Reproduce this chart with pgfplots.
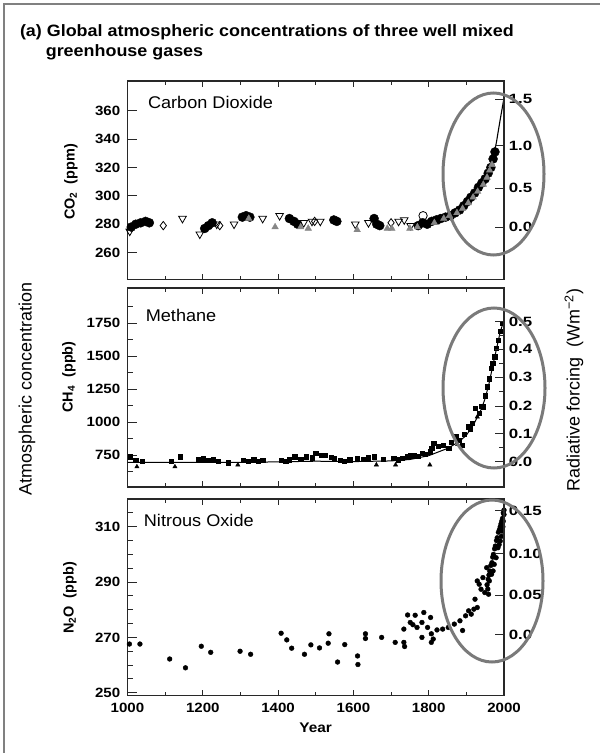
\documentclass[border=0pt]{standalone}
\usepackage{pgfplots}
\pgfplotsset{compat=1.18}
\usepackage{fontspec}
\setmainfont{Liberation Sans}

\definecolor{framegray}{RGB}{128,128,128}
\definecolor{ringgray}{RGB}{122,122,122}
\definecolor{markgray}{RGB}{135,135,135}
\definecolor{axisdark}{RGB}{40,40,40}

\newcommand{\tickfont}{\bfseries\fontsize{13.5}{15}\selectfont}
\newcommand{\panelfont}{\fontsize{17}{19}\selectfont}

\pgfplotsset{
  panel/.style={
    width=376.5bp, scale only axis,
    anchor=south west,
    xmin=1000, xmax=2000,
    xtick={1000,1200,...,2000},
    minor xtick={1100,1300,...,1900},
    tick align=inside,
    xtick style={/pgfplots/major tick length=6bp, /pgfplots/minor tick length=4bp},
    ytick style={/pgfplots/major tick length=9bp, /pgfplots/minor tick length=5bp},
    axis line style={line width=1.3bp, axisdark},
    every tick/.style={line width=1bp, axisdark},
    /pgf/number format/assume math mode=true,
    /pgf/number format/1000 sep={},
    yticklabel style={font=\tickfont, xscale=1.12, xshift=-3bp},
    xticklabel style={font=\tickfont, xscale=1.12, yshift=-4bp},
    clip=false,
  },
  rightpanel/.style={
    panel,
    axis y line*=right,
    axis x line=none,
    yticklabel style={font=\tickfont, xscale=1.12, xshift=3bp},
  },
}

\begin{document}
\begin{tikzpicture}[x=1bp,y=1bp]
\useasboundingbox (0,0) rectangle (600,-753);
\draw[framegray, line width=2bp] (4,-753) -- (4,-4) -- (600,-4);

% title
\node[anchor=base west, inner sep=0, xscale=1.09, font=\bfseries\fontsize{16.5}{19}\selectfont]
  at (19.8,-37) {(a) Global atmospheric concentrations of three well mixed};
\node[anchor=base west, inner sep=0, xscale=1.09, font=\bfseries\fontsize{16.5}{19}\selectfont]
  at (45.6,-57) {greenhouse gases};

% ---- CO2 ----
\begin{axis}[panel, height=198.5bp, at={(127.5bp,-279.5bp)},
    ymin=241, ymax=381, ytick={260,280,...,360}, ytick pos=left,
    xticklabels={}]
% Mauna Loa / smoothed record
\addplot[black, line width=1.1bp] coordinates {
 (1800,282) (1820,283) (1840,284) (1860,286) (1880,290) (1900,295)
 (1920,302) (1940,309) (1950,312) (1960,317) (1970,325) (1980,338)
 (1990,354) (2000,369)};
% filled circles
\addplot[only marks, mark=*, mark size=4.5bp, black] coordinates {
 (1010,278) (1022,280) (1035,281) (1048,282) (1058,281)
 (1205,277) (1215,279) (1225,281) (1305,285) (1315,286) (1325,285)
 (1430,284) (1442,282) (1452,280) (1548,283) (1556,282)
 (1655,284) (1662,280) (1670,279) (1772,279) (1784,281) (1796,280)
 (1808,282) (1820,283) (1832,284) (1845,285) (1858,286) (1870,288)
 (1882,290) (1893,293) (1903,296) (1912,299) (1922,302) (1932,306)
 (1941,309) (1950,312) (1958,316) (1965,320) (1971,326) (1976,331)};
% open triangles down
\addplot[only marks, mark=triangle, mark size=4.4bp, black, line width=0.8bp,
    mark options={rotate=180, fill=white}] coordinates {
 (1006,275) (1146,284) (1192,273) (1237,280) (1283,280) (1359,284)
 (1404,286) (1468,281) (1490,282) (1512,282) (1605,280) (1640,281)
 (1720,282) (1735,283) (1752,279)};
% open diamonds
\addplot[only marks, mark=diamond, mark size=4.2bp, black, line width=0.8bp,
    mark options={fill=white}] coordinates {
 (1095,279) (1245,279) (1497,282) (1700,281) (1827,283)};
% open circle
\addplot[only marks, mark=o, mark size=4.2bp, black, line width=0.8bp] coordinates {
 (1785,286)};
% grey triangles up
\addplot[only marks, mark=triangle*, mark size=3.8bp, markgray] coordinates {
 (1322,284) (1392,278) (1460,278) (1480,277) (1610,276) (1690,277)
 (1702,277) (1750,277) (1770,278) (1815,281) (1840,284) (1855,286)
 (1875,288) (1890,291) (1905,295) (1918,299) (1930,303) (1945,308)
 (1955,313) (1962,318) (1968,322)};
\node[anchor=base west, inner sep=0, xscale=1.07, font=\panelfont] at (rel axis cs:0.054,0.859) {Carbon Dioxide};
\end{axis}
\begin{axis}[rightpanel, height=198.5bp, at={(127.5bp,-279.5bp)},
    ymin=241, ymax=381,
    ytick={278,305.3,335.3,368.3}, yticklabels={0.0,0.5,1.0,1.5}]
\end{axis}

% ---- Methane ----
\begin{axis}[panel, height=199bp, at={(127.5bp,-487bp)},
    ymin=507, ymax=2018, ytick={750,1000,...,1750}, ytick pos=left,
    minor ytick={625,875,1125,1375,1625,1875},
    xticklabels={}]
\addplot[black, line width=1bp] coordinates {
 (1000,694) (1100,694) (1200,694) (1300,694) (1400,698) (1500,703)
 (1600,700) (1700,705) (1750,716) (1800,745) (1850,800) (1880,850)
 (1900,900) (1920,985) (1940,1100) (1950,1180) (1960,1290) (1970,1425)
 (1980,1555) (1990,1685) (2000,1775)};
\addplot[only marks, mark=square*, mark size=2.1bp, black] coordinates {
 (1008,737) (1022,712) (1040,700) (1116,700) (1141,737) (1187,715)
 (1200,722) (1215,712) (1227,718) (1240,705) (1268,692) (1308,712)
 (1320,705) (1335,715) (1348,700) (1359,712) (1409,712) (1420,705)
 (1429,715) (1444,737) (1460,720) (1475,737) (1490,730) (1500,762)
 (1515,748) (1525,750) (1540,735) (1550,725) (1565,710) (1576,700)
 (1590,715) (1611,725) (1625,718) (1640,730) (1656,737) (1680,720)
 (1707,725) (1720,715) (1730,728) (1742,737) (1752,745) (1762,750)
 (1772,740) (1783,762) (1790,755) (1803,775) (1808,800) (1813,839)
 (1825,815) (1838,826) (1853,800) (1860,850) (1874,889) (1880,860)
 (1889,826) (1895,905) (1904,965) (1910,950) (1915,990) (1924,1104)
 (1934,1066) (1940,1120) (1945,1117) (1950,1200) (1955,1269) (1960,1330)
 (1965,1408) (1970,1450) (1975,1497) (1980,1560) (1985,1624) (1990,1690)
 (1995,1750)};
\addplot[only marks, mark=triangle*, mark size=2.5bp, black] coordinates {
 (1025,661) (1126,661) (1293,675) (1661,675) (1712,675) (1803,675)
 (1877,830) (1929,1040)};
\node[anchor=base west, inner sep=0, xscale=1.07, font=\panelfont] at (rel axis cs:0.048,0.831) {Methane};
\end{axis}
\begin{axis}[rightpanel, height=199bp, at={(127.5bp,-487bp)},
    ymin=507, ymax=2018,
    ytick={699,910,1122,1340,1553,1762}, yticklabels={0.0,0.1,0.2,0.3,0.4,0.5},
    minor ytick={805,1016,1231,1446,1657}]
\end{axis}

% ---- Nitrous oxide ----
\begin{axis}[panel, height=196.5bp, at={(127.5bp,-695.5bp)},
    ymin=249, ymax=320, ytick={250,270,290,310}, ytick pos=left,
    minor ytick={255,260,265,275,280,285,295,300,305,315}]
\addplot[only marks, mark=*, mark size=2.4bp, black] coordinates {
 (1005,267.6) (1033,267.6) (1112,262.2) (1154,259.0) (1196,266.8)
 (1221,264.6) (1299,265.0) (1327,263.9) (1408,271.5) (1423,269.1)
 (1436,266.1) (1470,263.9) (1487,267.3) (1510,266.2) (1533,267.9)
 (1535,271.3) (1558,261.1) (1577,267.4) (1611,263.3) (1612,260.2)
 (1632,271.3) (1632,269.6) (1675,270.0) (1711,268.2) (1734,273.0)
 (1734,268.2) (1736,266.7) (1744,278.1) (1751,275.4) (1758,274.6)
 (1764,278.0) (1769,273.6) (1782,275.4) (1787,279.0) (1782,270.0)
 (1797,273.6) (1805,277.2) (1807,271.3) (1807,268.2) (1812,269.4)
 (1822,272.7) (1837,273.0) (1852,273.6) (1868,274.8) (1883,276.0)
 (1890,272.5) (1898,277.8) (1906,279.6) (1913,278.4) (1920,280.2)
 (1923,283.8) (1929,280.8) (1929,290.4) (1934,289.2) (1939,287.4)
 (1944,291.6) (1949,286.2) (1954,295.2) (1959,285.6) (1961,290.4)
 (1955,289.0) (1957,287.5) (1958,291.0) (1960,292.5) (1962,294.0)
 (1963,293.0) (1965,296.0) (1967,292.8) (1968,297.0) (1970,299.0)
 (1971,294.0) (1972,300.0) (1974,296.4) (1975,302.0) (1977,303.0)
 (1979,298.8) (1980,305.0) (1982,306.0) (1984,302.4) (1985,308.0)
 (1987,303.5) (1988,309.0) (1990,304.8) (1990,310.0) (1992,311.0)
 (1993,306.5) (1994,312.0) (1995,308.4) (1996,313.0) (1997,310.0)
 (1998,312.0) (1998,315.0) (2000,314.4) (2000,316.0)};
\node[anchor=base west, inner sep=0, xscale=1.07, font=\panelfont] at (rel axis cs:0.043,0.859) {Nitrous Oxide};
\end{axis}
\begin{axis}[rightpanel, height=196.5bp, at={(127.5bp,-695.5bp)},
    ymin=249, ymax=320,
    ytick={270.9,285.3,300.3,315.7}, yticklabels={0.0,0.05,0.10,0.15}]
\end{axis}

% axis titles
\node[xscale=1.1, font=\bfseries\fontsize{14}{16}\selectfont] at (315.7,-728) {Year};
\node[rotate=90, font=\bfseries\fontsize{14.5}{16}\selectfont] at (71,-182) {CO\textsubscript{2}\ \ (ppm)};
\node[rotate=90, font=\bfseries\fontsize{14.5}{16}\selectfont] at (69,-377) {CH\textsubscript{4}\ \ (ppb)};
\node[rotate=90, font=\bfseries\fontsize{14.5}{16}\selectfont] at (70,-598) {N\textsubscript{2}O\ \ (ppb)};
\node[rotate=90, font=\fontsize{18}{20}\selectfont] at (27,-389) {Atmospheric concentration};
\node[rotate=90, font=\fontsize{18}{20}\selectfont] at (574,-390) {Radiative forcing\ \ (Wm\textsuperscript{−2})};

% highlight rings
\draw[ringgray, line width=3bp] (493.5,-174) ellipse [x radius=50.5, y radius=81];
\draw[ringgray, line width=3bp] (494,-388) ellipse [x radius=51, y radius=80];
\draw[ringgray, line width=3bp] (492,-581) ellipse [x radius=51, y radius=81];
\end{tikzpicture}
\end{document}
